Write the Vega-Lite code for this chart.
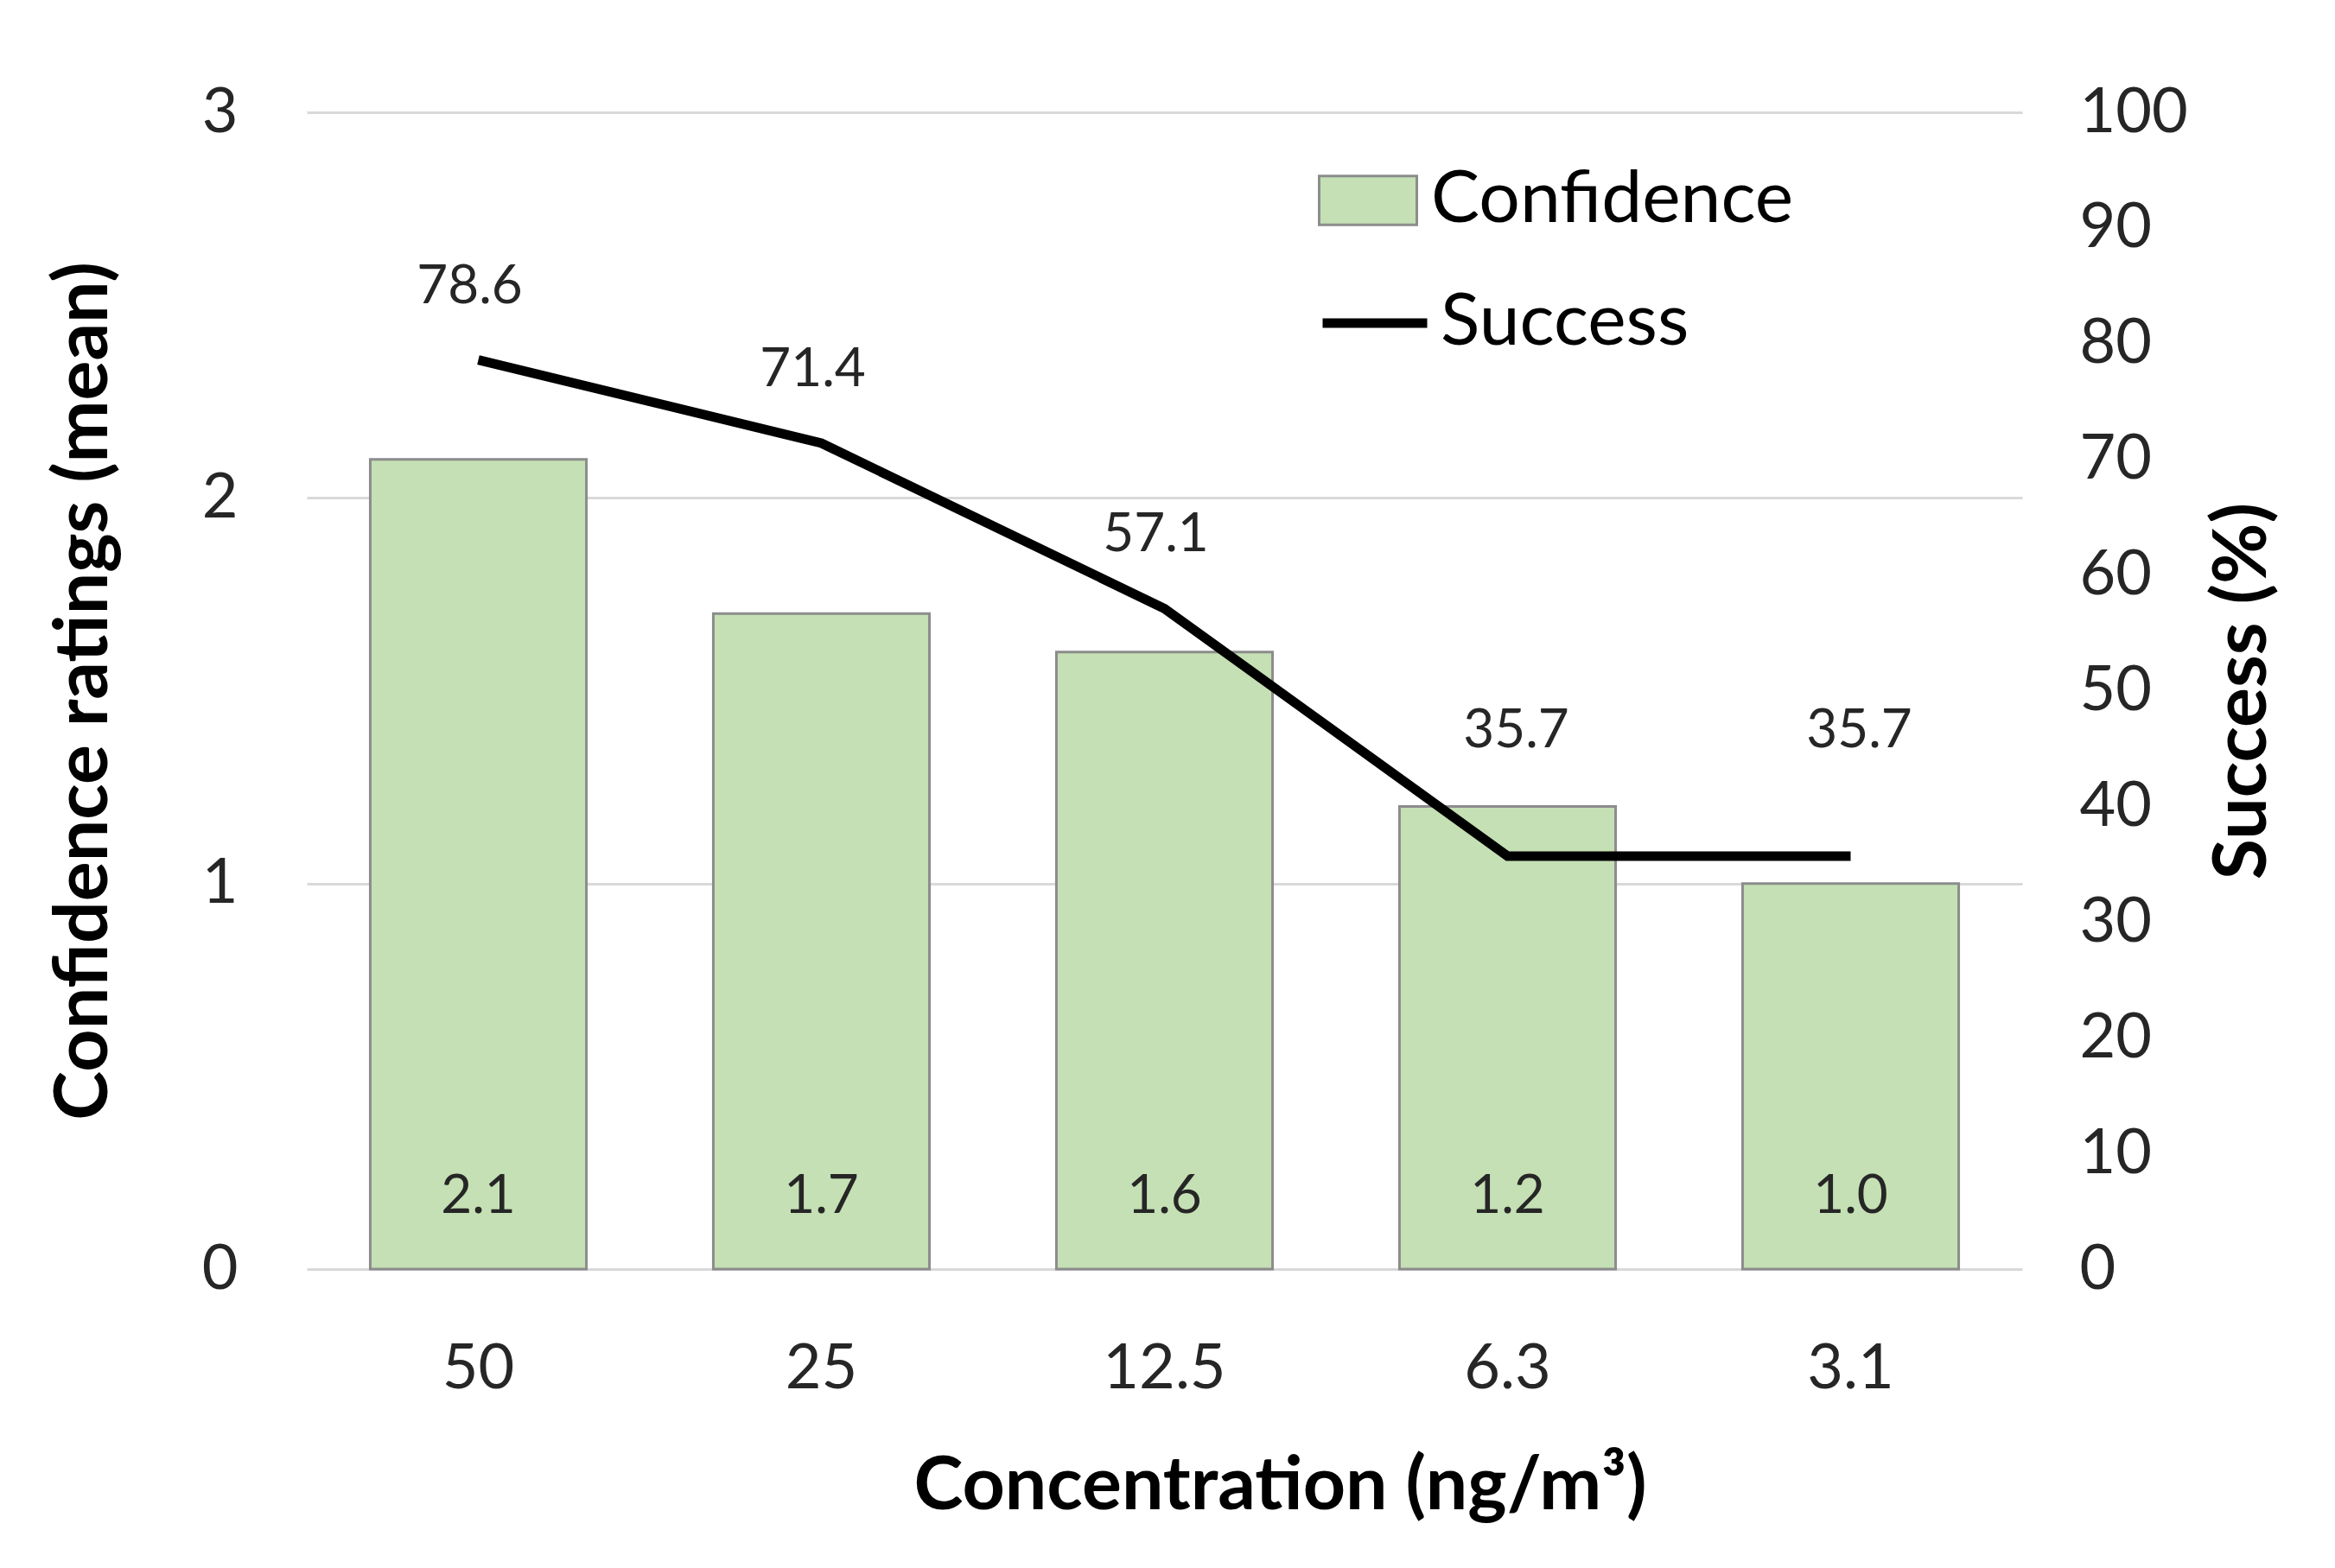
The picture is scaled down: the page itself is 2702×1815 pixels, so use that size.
{
  "$schema": "https://vega.github.io/schema/vega-lite/v6.json",
  "autosize": "none",
  "width": 1985,
  "height": 1339,
  "padding": {"left": 355, "top": 130, "right": 362, "bottom": 346},
  "background": "white",
  "data": {
    "values": [
      {"conc": "50", "Confidence": 2.1, "Success": 78.6},
      {"conc": "25", "Confidence": 1.7, "Success": 71.4},
      {"conc": "12.5", "Confidence": 1.6, "Success": 57.1},
      {"conc": "6.3", "Confidence": 1.2, "Success": 35.7},
      {"conc": "3.1", "Confidence": 1.0, "Success": 35.7}
    ]
  },
  "encoding": {
    "x": {
      "field": "conc",
      "type": "nominal",
      "sort": null,
      "scale": {"paddingInner": 0.37, "paddingOuter": 0.185},
      "axis": {
        "title": "Concentration (ng/m³)",
        "labelAngle": 0,
        "labelPadding": 80,
        "titlePadding": 58,
        "titleX": 1126,
        "ticks": false,
        "domain": false
      }
    }
  },
  "layer": [
    {
      "layer": [
        {
          "mark": {"type": "bar", "stroke": "#8c8c8c", "strokeWidth": 3},
          "encoding": {
            "y": {
              "field": "Confidence",
              "type": "quantitative",
              "scale": {"domain": [0, 3], "nice": false},
              "axis": {
                "title": "Confidence ratings (mean)",
                "orient": "left",
                "values": [0, 1, 2, 3],
                "format": "d",
                "grid": true,
                "labelPadding": 80,
                "titlePadding": 92
              }
            },
            "fill": {
              "datum": "Confidence",
              "type": "nominal",
              "scale": {"range": ["#C5E0B4"]},
              "legend": {
                "orient": "none",
                "legendX": 1170,
                "legendY": 44,
                "title": null,
                "symbolType": "M-1,-0.5H1V0.5H-1Z",
                "symbolSize": 12769,
                "symbolStrokeColor": "#8c8c8c",
                "symbolStrokeWidth": 3,
                "labelOffset": 15,
                "labelLimit": 0
              }
            }
          }
        },
        {
          "mark": {"type": "text", "dy": -84, "fontSize": 62, "color": "#262626", "font": "Lato"},
          "encoding": {
            "y": {"datum": 0, "type": "quantitative"},
            "text": {"field": "Confidence", "type": "quantitative", "format": ".1f"}
          }
        }
      ]
    },
    {
      "layer": [
        {
          "mark": {"type": "line", "strokeWidth": 11},
          "encoding": {
            "y": {
              "field": "Success",
              "type": "quantitative",
              "scale": {"domain": [0, 100], "nice": false},
              "axis": {
                "title": "Success (%)",
                "orient": "right",
                "values": [0, 10, 20, 30, 40, 50, 60, 70, 80, 90, 100],
                "grid": false,
                "labelPadding": 66,
                "titlePadding": 108,
                "titleAngle": 270
              }
            },
            "stroke": {
              "datum": "Success",
              "type": "nominal",
              "scale": {"range": ["#000000"]},
              "legend": {
                "orient": "none",
                "legendX": 1170,
                "legendY": 178,
                "title": null,
                "symbolType": "stroke",
                "symbolSize": 14641,
                "symbolStrokeWidth": 11,
                "labelOffset": 10,
                "labelLimit": 0
              }
            }
          }
        },
        {
          "transform": [{"filter": "datum.Success > 50"}],
          "mark": {"type": "text", "dy": -85, "dx": -10, "fontSize": 62, "color": "#262626", "font": "Lato"},
          "encoding": {
            "y": {"field": "Success", "type": "quantitative"},
            "text": {"field": "Success", "type": "quantitative", "format": ".1f"}
          }
        },
        {
          "transform": [{"filter": "datum.Success <= 50"}],
          "mark": {"type": "text", "dy": -145, "dx": 10, "fontSize": 62, "color": "#262626", "font": "Lato"},
          "encoding": {
            "y": {"field": "Success", "type": "quantitative"},
            "text": {"field": "Success", "type": "quantitative", "format": ".1f"}
          }
        }
      ]
    }
  ],
  "resolve": {"scale": {"y": "independent"}},
  "config": {
    "font": "Lato",
    "view": {"stroke": null},
    "axis": {
      "labelFont": "Lato",
      "labelFontSize": 72,
      "labelColor": "#262626",
      "titleFont": "Lato",
      "titleFontSize": 86,
      "titleFontWeight": "bold",
      "titleColor": "#000000",
      "ticks": false,
      "domain": false,
      "gridColor": "#d9d9d9",
      "gridWidth": 3
    },
    "legend": {
      "labelFont": "Lato",
      "labelFontSize": 84,
      "labelColor": "#000000",
      "padding": 0
    }
  }
}
